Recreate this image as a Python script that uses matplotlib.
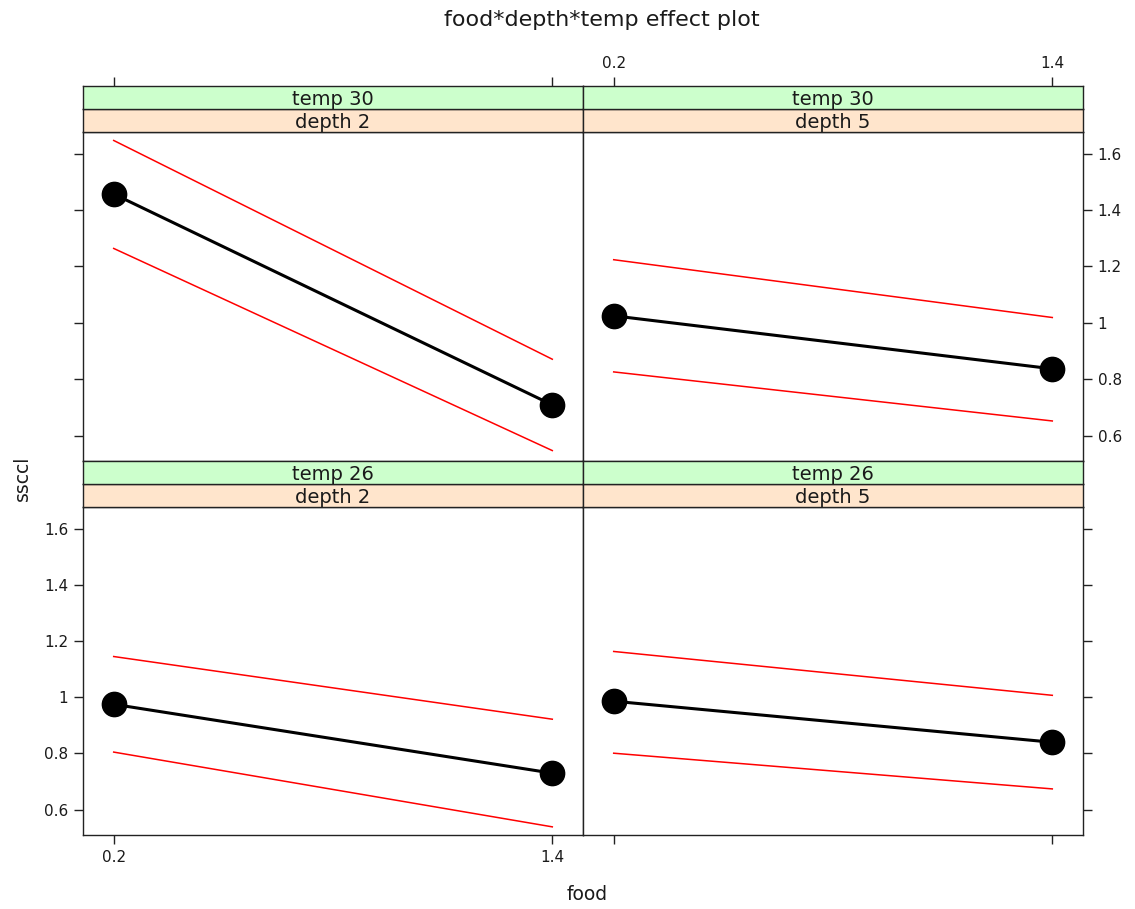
import matplotlib
matplotlib.use('Agg')
import matplotlib.pyplot as plt

# food levels on the x axis
food = [0.2, 1.4]

# fitted effect and confidence band per panel (temp, depth)
fit_t30_d2 = [1.457, 0.709]
lo_t30_d2 = [1.264, 0.547]
hi_t30_d2 = [1.647, 0.871]

fit_t30_d5 = [1.025, 0.837]
lo_t30_d5 = [0.826, 0.652]
hi_t30_d5 = [1.224, 1.019]

fit_t26_d2 = [0.975, 0.730]
lo_t26_d2 = [0.805, 0.539]
hi_t26_d2 = [1.145, 0.922]

fit_t26_d5 = [0.986, 0.840]
lo_t26_d5 = [0.801, 0.674]
hi_t26_d5 = [1.163, 1.007]

y_ticks = [0.6, 0.8, 1.0, 1.2, 1.4, 1.6]
y_ticklabels = ['0.6', '0.8', '1', '1.2', '1.4', '1.6']
x_ticks = [0.2, 1.4]
x_ticklabels = ['0.2', '1.4']

W, H = 1135, 909
XLIM = (0.116, 1.484)
YLIM = (0.510, 1.677)
GREEN = '#ccffcc'
ORANGE = '#ffe5cc'
TXT = '#1a1a1a'


def px(x0, y0, x1, y1):
    # pixel box (top-left origin) -> figure fraction rect
    return [x0 / W, 1 - y1 / H, (x1 - x0) / W, (y1 - y0) / H]


fig = plt.figure(figsize=(W / 100, H / 100), dpi=100)

panels = [
    # (col x0, plot top y, plot bottom y, temp, depth, fit, lo, hi, row, col)
    (83, 132, 461, '30', '2', fit_t30_d2, lo_t30_d2, hi_t30_d2, 'top', 'left'),
    (583, 132, 461, '30', '5', fit_t30_d5, lo_t30_d5, hi_t30_d5, 'top', 'right'),
    (83, 507, 835, '26', '2', fit_t26_d2, lo_t26_d2, hi_t26_d2, 'bottom', 'left'),
    (583, 507, 835, '26', '5', fit_t26_d5, lo_t26_d5, hi_t26_d5, 'bottom', 'right'),
]

for (x0, ytop, ybot, temp, depth, fit, lo, hi, row, col) in panels:
    ax = fig.add_axes(px(x0, ytop, x0 + 500, ybot))
    ax.plot(food, hi, color='red', lw=1.1)
    ax.plot(food, lo, color='red', lw=1.1)
    ax.plot(food, fit, color='black', lw=2.2, marker='o', markersize=17.5)
    ax.set_xlim(*XLIM)
    ax.set_ylim(*YLIM)
    for s in ax.spines.values():
        s.set_linewidth(1.0)
        s.set_color('#222222')
    ax.tick_params(direction='out', length=6.5, width=1.0, color='#222222',
                   labelsize=11, labelcolor=TXT, pad=4)

    # y axis: left column ticks on the left, right column on the right
    ax.set_yticks(y_ticks)
    if col == 'left':
        ax.yaxis.tick_left()
        ax.set_yticklabels(y_ticklabels if row == 'bottom' else [])
    else:
        ax.yaxis.tick_right()
        ax.set_yticklabels(y_ticklabels if row == 'top' else [])

    # x axis: bottom row ticks below, top row ticks drawn above the strips
    if row == 'bottom':
        ax.set_xticks(x_ticks)
        ax.set_xticklabels(x_ticklabels if col == 'left' else [])
    else:
        ax.set_xticks([])

    # strips: depth (orange) just above the panel, temp (green) on top
    s_depth = fig.add_axes(px(x0, ytop - 23, x0 + 500, ytop))
    s_temp = fig.add_axes(px(x0, ytop - 46, x0 + 500, ytop - 23))
    for sax, colr, lab in ((s_depth, ORANGE, 'depth ' + depth),
                           (s_temp, GREEN, 'temp ' + temp)):
        sax.set_facecolor(colr)
        sax.set_xlim(*XLIM)
        sax.set_yticks([])
        sax.set_xticks([])
        for s in sax.spines.values():
            s.set_linewidth(1.0)
            s.set_color('#222222')
        sax.text(0.5, 0.40, lab, transform=sax.transAxes, ha='center',
                 va='center', fontsize=14, color=TXT)

    if row == 'top':
        s_temp.xaxis.tick_top()
        s_temp.set_xticks(x_ticks)
        s_temp.set_xticklabels(x_ticklabels if col == 'right' else [])
        s_temp.tick_params(direction='out', length=6.5, width=1.0,
                           color='#222222', labelsize=11, labelcolor=TXT,
                           pad=4)

fig.text(602 / W, 1 - 20 / H, 'food*depth*temp effect plot', ha='center',
         va='center', fontsize=16, color=TXT)
fig.text(587 / W, 1 - 894 / H, 'food', ha='center', va='center',
         fontsize=13.5, color=TXT)
fig.text(22 / W, 1 - 478 / H, 'ssccl', ha='center', va='center',
         rotation=90, fontsize=13.5, color=TXT)

fig.savefig('out.png', dpi=100)
